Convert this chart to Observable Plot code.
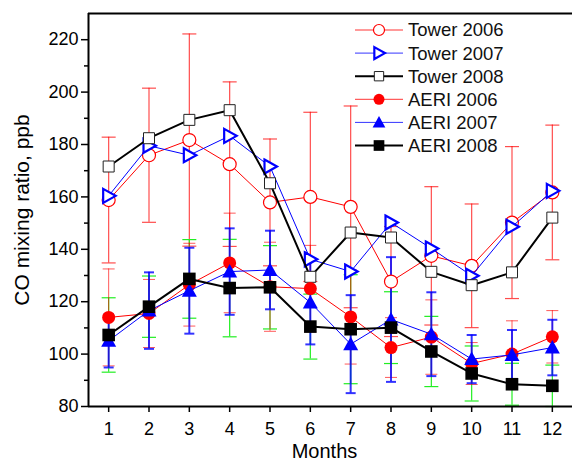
<!DOCTYPE html>
<html><head><meta charset="utf-8">
<script src="https://cdn.jsdelivr.net/npm/d3@7"></script>
<script src="https://cdn.jsdelivr.net/npm/@observablehq/plot@0.6"></script>
<style>
body{margin:0;background:#fff;}
#chart{position:relative;width:572px;height:462px;overflow:hidden;}
#legend{position:absolute;left:0;top:0;pointer-events:none;}
</style></head><body><div id="chart"></div>
<script>
// ---- data ----
const months = [1,2,3,4,5,6,7,8,9,10,11,12];
const tower2006 = [158.8,175.9,181.7,172.5,157.9,160.0,156.2,127.7,137.5,133.7,150.2,161.7];
const tower2006Err = [24,25.6,40.5,31.4,24.2,32.3,38.5,21,26.4,23.6,29,25.7];
const tower2007 = [160.4,179.5,175.9,183.3,171.6,136.2,131.5,150.2,140.3,129.9,148.6,162.3];
const tower2008 = [171.6,182.4,189.4,193.1,165.2,129.5,146.4,144.5,131.4,126.3,131.2,152.1];
const aeri2006 = [114.0,115.5,126.5,134.8,125.7,125.0,114.2,102.5,106.5,96.4,100.0,106.6];
const aeri2006Err = [18.5,13,15.8,19,17,16.5,18,11.4,14.2,8,12.7,10];
const aeri2007 = [105.1,116.6,124.2,131.5,132.1,119.7,103.8,113.2,107.6,98.1,99.7,102.5];
const aeri2007Err = [10.2,14.6,16.4,16.5,15,16,18.7,23.8,16,9.2,9.5,10.6];
const aeri2008 = [107.3,118.1,128.7,125.2,125.5,110.5,109.5,110.1,101.0,92.6,88.5,87.9];
const aeri2008Err = [14.2,11.7,15,18.6,15.9,12.4,20.8,13.7,13.4,10.5,8,7.9];
const yTicks = [80,100,120,140,160,180,200,220];
const yMinorTicks = [90,110,130,150,170,190,210];
const xDomain = [0.5,12.5];
const yDomain = [80,230];
const legendLabels = ["Tower 2006","Tower 2007","Tower 2008","AERI 2006","AERI 2007","AERI 2008"];
const yLabel = "CO mixing ratio, ppb";
const xLabel = "Months";

// ---- symbols ----
const kOf = size => Math.sqrt(size / (Math.PI * 36));
const circleSym = {draw(c, s){const r = 6.5*kOf(s); c.moveTo(r,0); c.arc(0,0,r,0,2*Math.PI);}};
const squareOpen = {draw(c, s){const h = 5.5*kOf(s); c.moveTo(-h,-h); c.lineTo(h,-h); c.lineTo(h,h); c.lineTo(-h,h); c.closePath();}};
const squareFill = {draw(c, s){const h = 6.3*kOf(s); c.moveTo(-h,-h); c.lineTo(h,-h); c.lineTo(h,h); c.lineTo(-h,h); c.closePath();}};
const triUp = {draw(c, s){const k = kOf(s); c.moveTo(0,-7.5*k); c.lineTo(7.5*k,6*k); c.lineTo(-7.5*k,6*k); c.closePath();}};
const triRight = {draw(c, s){const k = kOf(s); c.moveTo(-5.5*k,-7*k); c.lineTo(7*k,0); c.lineTo(-5.5*k,7*k); c.closePath();}};
const capSym = w => ({draw(c){c.moveTo(-w/2,0); c.lineTo(w/2,0);}});

const series = [
  {name: legendLabels[0], values: tower2006, err: tower2006Err, color: "#ff0000", lw: 1, sym: circleSym, fill: "white", sw: 1.2, errColor: "#ff0000", errOp: 0.7, errW: 1.2, cap: 14},
  {name: legendLabels[1], values: tower2007, err: null, color: "#0000ff", lw: 1, sym: triRight, fill: "white", sw: 2.2},
  {name: legendLabels[2], values: tower2008, err: null, color: "#000000", lw: 2, sym: squareOpen, fill: "white", sw: 1, mstroke: "#222"},
  {name: legendLabels[3], values: aeri2006, err: aeri2006Err, color: "#ff0000", lw: 1, sym: circleSym, fill: "#ff0000", sw: 0, errColor: "#ff0000", errOp: 0.65, errW: 1, cap: 12},
  {name: legendLabels[4], values: aeri2007, err: aeri2007Err, color: "#0000ff", lw: 1, sym: triUp, fill: "#0000ff", sw: 0, errColor: "#0000ff", errOp: 0.8, errW: 2, cap: 10},
  {name: legendLabels[5], values: aeri2008, err: aeri2008Err, color: "#000000", lw: 2, sym: squareFill, fill: "#000000", sw: 0, errColor: "#22ee22", errOp: 1, errW: 1.2, cap: 14}
];
series.forEach(s => s.rows = months.map((m,i) => ({month: m, v: s.values[i], e: s.err ? s.err[i] : 0})));

// error bars order: tower 2006, AERI 2008 (green), AERI 2006 (red), AERI 2007 (blue)
const errOrder = [series[0], series[5], series[3], series[4]];
const errMarks = errOrder.flatMap(s => [
  Plot.ruleX(s.rows, {x: "month", y1: d => d.v - d.e, y2: d => d.v + d.e, stroke: s.errColor, strokeOpacity: s.errOp, strokeWidth: s.errW}),
  Plot.dot(s.rows, {x: "month", y: d => d.v + d.e, symbol: capSym(s.cap), r: 6, fill: "none", stroke: s.errColor, strokeOpacity: s.errOp, strokeWidth: s.errW}),
  Plot.dot(s.rows, {x: "month", y: d => d.v - d.e, symbol: capSym(s.cap), r: 6, fill: "none", stroke: s.errColor, strokeOpacity: s.errOp, strokeWidth: s.errW})
]);
const lineMarks = series.flatMap(s => [
  Plot.line(s.rows, {x: "month", y: "v", stroke: s.color, strokeWidth: s.lw}),
  Plot.dot(s.rows, {x: "month", y: "v", symbol: s.sym, r: 6, fill: s.fill, stroke: s.sw ? (s.mstroke || s.color) : "none", strokeWidth: s.sw})
]);

const plot = Plot.plot({
  width: 572, height: 462,
  marginLeft: 88, marginRight: 0, marginTop: 13, marginBottom: 56,
  style: {fontFamily: "'Liberation Sans', Arial, sans-serif", background: "white", color: "black", overflow: "visible"},
  x: {domain: xDomain},
  y: {domain: yDomain},
  marks: [
    ...errMarks,
    ...lineMarks,
    Plot.ruleY([yDomain[0]], {stroke: "black", strokeWidth: 2}),
    Plot.ruleY([yDomain[1]], {stroke: "black", strokeWidth: 2}),
    Plot.ruleX([xDomain[0]], {stroke: "black", strokeWidth: 2}),
    Plot.axisY({ticks: yTicks, tickSize: 7, tickPadding: 3, fontSize: 18, strokeWidth: 1.5, label: null}),
    Plot.axisY({ticks: yMinorTicks, tickSize: 4, strokeWidth: 1.5, text: null, label: null}),
    Plot.axisX({ticks: months, tickSize: 6, tickPadding: 10, fontSize: 18, strokeWidth: 1.5, label: null}),
    Plot.text([yLabel], {frameAnchor: "left", textAnchor: "middle", lineAnchor: "middle", rotate: -90, dx: -66, fontSize: 21, fill: "black"}),
    Plot.text([xLabel], {frameAnchor: "bottom", textAnchor: "middle", lineAnchor: "middle", dy: 45, dx: -6, fontSize: 20, fill: "black"})
  ]
});
const chart = document.getElementById("chart");
chart.appendChild(plot);

// ---- legend overlay ----
const lg = d3.select(chart).append("svg").attr("id", "legend").attr("width", 572).attr("height", 462)
  .style("font-family", "'Liberation Sans', Arial, sans-serif");
series.forEach((s, i) => {
  const y = 30 + i * 23.1;
  const g = lg.append("g");
  g.append("line").attr("x1", 355).attr("x2", 403).attr("y1", y).attr("y2", y)
    .attr("stroke", s.color).attr("stroke-width", s.lw).attr("stroke-opacity", s.lw === 1 ? 0.8 : 1);
  g.append("path").attr("transform", `translate(379,${y})`)
    .attr("d", d3.symbol(s.sym, Math.PI * 36 * 0.72)())
    .attr("fill", s.fill).attr("stroke", s.sw ? (s.mstroke || s.color) : "none").attr("stroke-width", s.sw);
  g.append("text").attr("x", 408).attr("y", y).attr("dy", "0.35em")
    .attr("font-size", 18.5).attr("fill", "#111").text(s.name);
});
</script></body></html>
